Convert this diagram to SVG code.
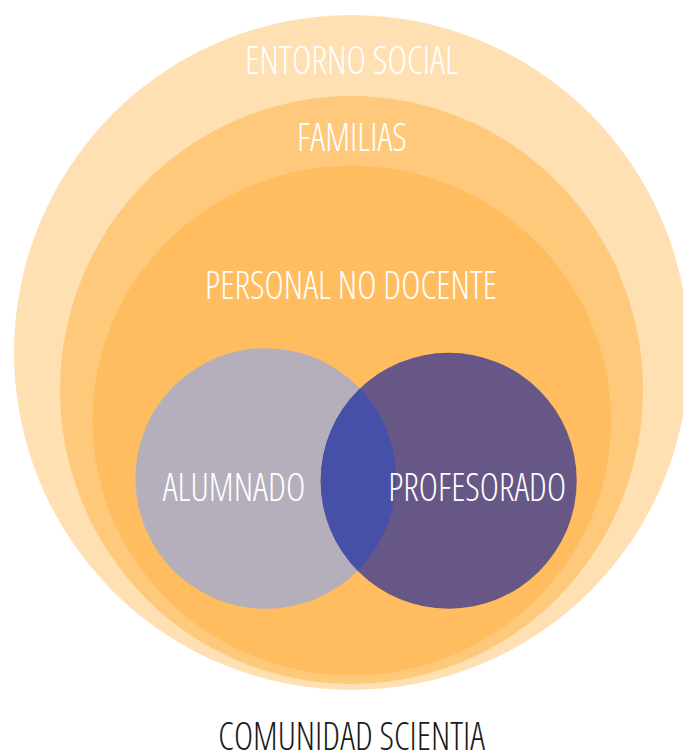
<svg xmlns="http://www.w3.org/2000/svg" width="683" height="751" viewBox="0 0 683 751">
<style>
.lbl{font-family:"Open Sans","Liberation Sans",sans-serif;font-weight:300;font-stretch:condensed;font-size:38px;fill:#ffffff;text-anchor:middle}
.title{fill:#1a1a1a}
</style>
<defs>
<clipPath id="clipA"><circle cx="265.7" cy="478.5" r="130.3"/></clipPath>
</defs>
<rect width="683" height="751" fill="#ffffff"/>
<g id="entorno-social">
<circle cx="351.5" cy="352.5" r="337.5" fill="#FFE0B3"/>
<text class="lbl" x="351.5" y="74" textLength="213" lengthAdjust="spacingAndGlyphs">ENTORNO SOCIAL</text>
</g>
<g id="familias">
<ellipse cx="351.5" cy="390" rx="291.5" ry="294" fill="#FFC97B"/>
<text class="lbl" x="352" y="151" textLength="110" lengthAdjust="spacingAndGlyphs">FAMILIAS</text>
</g>
<g id="personal-no-docente">
<ellipse cx="351.7" cy="420.5" rx="259.3" ry="254.8" fill="#FFBD5F"/>
<text class="lbl" x="351" y="299.3" textLength="292" lengthAdjust="spacingAndGlyphs">PERSONAL NO DOCENTE</text>
</g>
<g id="alumnado">
<circle cx="265.7" cy="478.5" r="130.3" fill="#B4AFBA"/>
</g>
<g id="profesorado">
<circle cx="448.7" cy="480.7" r="128" fill="#675786"/>
</g>
<g id="interseccion">
<circle cx="448.7" cy="480.7" r="128" fill="#4650A9" clip-path="url(#clipA)"/>
</g>
<g id="labels">
<text class="lbl" x="234" y="500.7" textLength="142.6" lengthAdjust="spacingAndGlyphs">ALUMNADO</text>
<text class="lbl" x="477.2" y="500.7" textLength="177.7" lengthAdjust="spacingAndGlyphs">PROFESORADO</text>
</g>
<g id="comunidad-scientia">
<text class="lbl title" x="351.7" y="750" textLength="266.7" lengthAdjust="spacingAndGlyphs">COMUNIDAD SCIENTIA</text>
</g>
<g id="connectors"/>
</svg>
